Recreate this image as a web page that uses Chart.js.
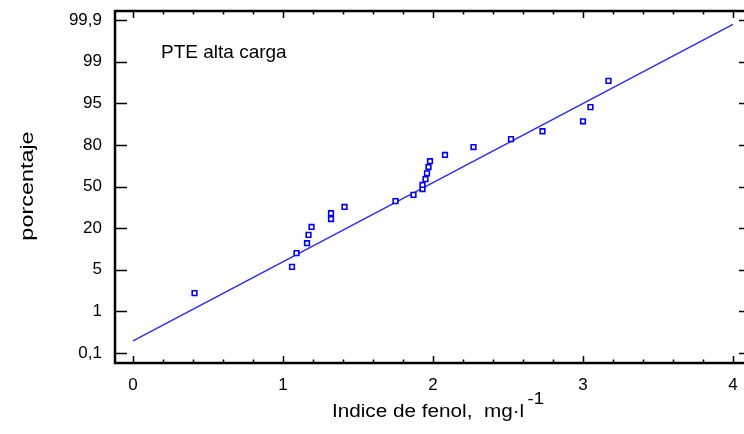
<!DOCTYPE html>
<html>
<head>
<meta charset="utf-8">
<script src="https://cdn.jsdelivr.net/npm/chart.js@4.4.0/dist/chart.umd.min.js"></script>
<style>
  html, body { margin: 0; padding: 0; background: #fff; overflow: hidden; }
  canvas { display: block; }
</style>
</head>
<body>
<canvas id="chart" width="766" height="434"></canvas>
<script>
// Datos (posición en escala de probabilidad: 0 = 0,1 % ... 8 = 99,9 %)
const fenol = [0.41, 1.06, 1.09, 1.16, 1.17, 1.19, 1.32, 1.32, 1.41, 1.75, 1.87, 1.93,
               1.93, 1.95, 1.96, 1.97, 1.98, 2.08, 2.27, 2.52, 2.73, 3.00, 3.05, 3.17];
const probPos = [1.44, 2.07, 2.40, 2.64, 2.84, 3.03, 3.22, 3.36, 3.51, 3.65, 3.80, 3.94,
                 4.04, 4.18, 4.32, 4.47, 4.61, 4.76, 4.95, 5.14, 5.33, 5.57, 5.91, 6.54];

// Recta ajustada
const fitX = [0, 4];
const fitY = [0.29, 7.90];

// Ejes
const xTicks = [0, 1, 2, 3, 4];
const yLabels = ['0,1', '1', '5', '20', '50', '80', '95', '99', '99,9'];

const annotation = 'PTE alta carga';
const xTitle = 'Indice de fenol,  mg·l';
const xTitleSup = '-1';
const yTitle = 'porcentaje';

const FONT = "'Liberation Sans', Arial, sans-serif";
Chart.defaults.font.family = FONT;
Chart.defaults.color = '#000';

// Marco y marcas de los ejes (hacia dentro, como en el original)
const framePlugin = {
    id: 'frame',
    beforeDatasetsDraw(chart) {
        const { ctx, chartArea: a, scales: { x, y } } = chart;
        ctx.save();
        ctx.strokeStyle = '#000';
        ctx.lineWidth = 1.5;
        ctx.beginPath();
        // marcas x: mayores cada 1, menores cada 0,2
        for (let i = 0; i <= 20; i++) {
            const px = Math.round(x.getPixelForValue(i * 0.2)) + 0.5;
            const len = i % 5 === 0 ? 7 : 3.5;
            ctx.moveTo(px, a.bottom); ctx.lineTo(px, a.bottom - len);
            ctx.moveTo(px, a.top); ctx.lineTo(px, a.top + len);
        }
        // marcas y
        yLabels.forEach((_, i) => {
            const py = Math.round(y.getPixelForValue(i)) + 0.5;
            ctx.moveTo(a.left, py); ctx.lineTo(a.left + 13, py);
            ctx.moveTo(a.right, py); ctx.lineTo(a.right - 13, py);
        });
        ctx.stroke();
        ctx.lineWidth = 2.5;
        ctx.strokeRect(a.left + 1, a.top, a.right - a.left, a.bottom - a.top);
        ctx.restore();
    },
    afterDraw(chart) {
        const { ctx } = chart;
        ctx.save();
        ctx.fillStyle = '#000';
        ctx.textBaseline = 'alphabetic';
        ctx.textAlign = 'left';

        ctx.font = '19px ' + FONT;
        ctx.fillText(annotation, 161, 58);

        // título eje x (texto algo ensanchado como en el original)
        ctx.save();
        ctx.translate(332, 417);
        ctx.scale(1.15, 1);
        ctx.font = '18px ' + FONT;
        ctx.fillText(xTitle, 0, 0);
        const w = ctx.measureText(xTitle).width;
        ctx.font = '16px ' + FONT;
        ctx.fillText(xTitleSup, w + 3, -13);
        ctx.restore();

        // título eje y
        ctx.save();
        ctx.translate(33, 186);
        ctx.rotate(-Math.PI / 2);
        ctx.scale(1.3, 1);
        ctx.font = '18px ' + FONT;
        ctx.textAlign = 'center';
        ctx.fillText(yTitle, 0, 0);
        ctx.restore();

        ctx.restore();
    }
};

new Chart(document.getElementById('chart'), {
    type: 'scatter',
    data: {
        datasets: [
            {
                label: 'datos',
                data: fenol.map((v, i) => ({ x: v, y: probPos[i] })),
                pointStyle: 'rect',
                pointRadius: 3.3,
                pointBorderWidth: 1.6,
                borderColor: '#0000ff',
                backgroundColor: '#ffffff',
                order: 0
            },
            {
                label: 'ajuste',
                data: fitX.map((v, i) => ({ x: v, y: fitY[i] })),
                showLine: true,
                pointRadius: 0,
                borderColor: '#2b2bff',
                borderWidth: 1.5,
                order: 1
            }
        ]
    },
    options: {
        responsive: false,
        animation: false,
        devicePixelRatio: 1,
        layout: { padding: { top: 11, right: 14, left: 0, bottom: 0 } },
        plugins: { legend: { display: false }, tooltip: { enabled: false } },
        scales: {
            x: {
                type: 'linear',
                min: -0.127,
                max: 4.127,
                grid: { display: false, drawTicks: false },
                border: { display: false },
                ticks: { font: { size: 17 }, padding: 12, color: '#000' },
                afterBuildTicks: s => { s.ticks = xTicks.map(v => ({ value: v })); },
                afterFit: s => { s.height = 71; s.paddingLeft = 0; s.paddingRight = 0; }
            },
            y: {
                type: 'linear',
                min: -0.24,
                max: 8.22,
                grid: { display: false, drawTicks: false },
                border: { display: false },
                ticks: {
                    font: { size: 17 },
                    padding: 12,
                    color: '#000',
                    callback: v => yLabels[v]
                },
                afterBuildTicks: s => { s.ticks = yLabels.map((_, i) => ({ value: i })); },
                afterFit: s => { s.width = 114; s.paddingTop = 0; s.paddingBottom = 0; }
            }
        }
    },
    plugins: [framePlugin]
});
</script>
</body>
</html>
